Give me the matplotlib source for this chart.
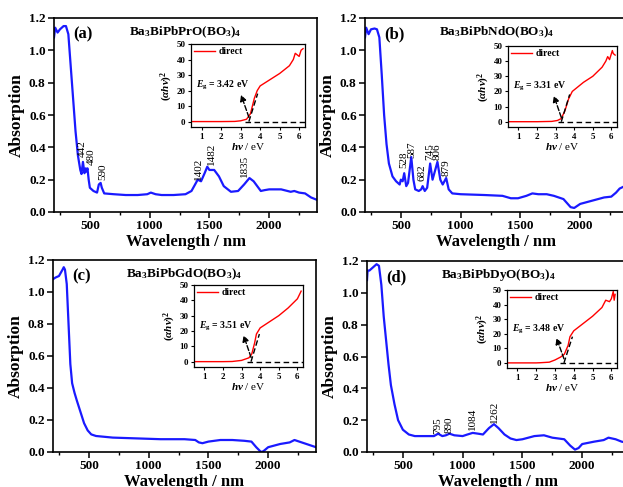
import matplotlib
matplotlib.use("Agg")
from matplotlib import pyplot as plt
from matplotlib.ticker import MultipleLocator, FormatStrFormatter

plt.rcParams['font.family'] = ['Liberation Serif', 'DejaVu Serif']
plt.rcParams['font.weight'] = 'bold'
plt.rcParams['mathtext.fontset'] = 'custom'
plt.rcParams['mathtext.rm'] = 'Liberation Serif:bold'
plt.rcParams['mathtext.it'] = 'Liberation Serif:italic:bold'
plt.rcParams['mathtext.bf'] = 'Liberation Serif:bold'

# widma absorpcji (nm, absorpcja)
wl_a = [200, 210, 230, 250, 280, 300, 320, 340, 360, 380, 400, 420, 430, 442, 455, 465, 472, 480,
        490, 500, 530, 560, 575, 590, 600, 620, 700, 800, 900, 980, 1010, 1050, 1100, 1200, 1300,
        1350, 1380, 1402, 1430, 1460, 1482, 1500, 1540, 1580, 1620, 1680, 1740, 1790, 1835, 1870,
        1910, 1930, 1960, 2000, 2100, 2180, 2210, 2250, 2300, 2350, 2400]
ab_a = [1.08, 1.14, 1.11, 1.13, 1.15, 1.15, 1.10, 0.90, 0.70, 0.50, 0.35, 0.26, 0.235, 0.31, 0.24,
        0.27, 0.25, 0.27, 0.20, 0.15, 0.13, 0.12, 0.17, 0.18, 0.15, 0.115, 0.11, 0.105, 0.105, 0.11,
        0.12, 0.11, 0.105, 0.105, 0.11, 0.13, 0.17, 0.20, 0.19, 0.24, 0.28, 0.26, 0.26, 0.22, 0.16,
        0.125, 0.13, 0.17, 0.21, 0.19, 0.15, 0.13, 0.135, 0.14, 0.14, 0.125, 0.13, 0.12, 0.115,
        0.09, 0.075]

wl_b = [200, 210, 230, 250, 280, 300, 320, 340, 360, 380, 400, 430, 460, 490, 500, 515, 528, 545,
        560, 587, 605, 620, 650, 670, 682, 700, 720, 745, 765, 780, 806, 830, 850, 879, 900, 930,
        1000, 1200, 1350, 1420, 1480, 1550, 1600, 1650, 1720, 1780, 1860, 1920, 1950, 2000, 2100,
        2200, 2260, 2300, 2330, 2400]
ab_b = [1.08, 1.14, 1.10, 1.13, 1.135, 1.13, 1.08, 0.85, 0.60, 0.42, 0.30, 0.22, 0.19, 0.17, 0.20,
        0.19, 0.24, 0.16, 0.18, 0.34, 0.20, 0.14, 0.13, 0.14, 0.16, 0.13, 0.15, 0.30, 0.20, 0.24,
        0.31, 0.20, 0.17, 0.21, 0.14, 0.115, 0.11, 0.105, 0.10, 0.085, 0.085, 0.10, 0.115, 0.11,
        0.11, 0.10, 0.08, 0.03, 0.025, 0.05, 0.07, 0.09, 0.095, 0.12, 0.145, 0.17]

wl_c = [200, 220, 250, 280, 290, 300, 315, 330, 345, 360, 380, 400, 430, 460, 490, 520, 560, 700,
        900, 1100, 1300, 1390, 1420, 1450, 1500, 1600, 1700, 1800, 1860, 1900, 1940, 1960, 2000,
        2100, 2180, 2220, 2260, 2340, 2400]
ab_c = [1.08, 1.09, 1.10, 1.14, 1.155, 1.14, 1.05, 0.80, 0.55, 0.43, 0.37, 0.32, 0.25, 0.18, 0.135,
        0.11, 0.10, 0.09, 0.085, 0.08, 0.08, 0.075, 0.06, 0.055, 0.065, 0.075, 0.075, 0.07, 0.065,
        0.03, 0.0, 0.005, 0.03, 0.05, 0.06, 0.075, 0.065, 0.045, 0.03]

wl_d = [200, 205, 220, 250, 280, 300, 320, 340, 360, 380, 400, 430, 460, 500, 550, 600, 700, 760,
        795, 830, 860, 890, 930, 1000, 1040, 1084, 1130, 1170, 1220, 1262, 1300, 1350, 1400, 1450,
        1500, 1600, 1680, 1750, 1850, 1900, 1940, 1970, 2000, 2100, 2180, 2220, 2280, 2330, 2400]
ab_d = [1.08, 1.14, 1.14, 1.16, 1.18, 1.17, 1.05, 0.85, 0.70, 0.55, 0.42, 0.30, 0.20, 0.14, 0.11,
        0.10, 0.10, 0.10, 0.115, 0.10, 0.105, 0.115, 0.105, 0.10, 0.11, 0.12, 0.115, 0.11, 0.15,
        0.175, 0.15, 0.11, 0.085, 0.075, 0.08, 0.10, 0.105, 0.09, 0.08, 0.04, 0.015, 0.025, 0.05,
        0.065, 0.075, 0.09, 0.08, 0.065, 0.055]

# podpisy pików: (tekst, x w nm, dolna krawędź podpisu)
piki_a = [('442', 436, 0.34), ('480', 514, 0.29), ('590', 609, 0.195),
          ('1402', 1407, 0.195), ('1482', 1516, 0.29), ('1835', 1795, 0.215)]
piki_b = [('528', 527, 0.27), ('587', 588, 0.335), ('682', 680, 0.19),
          ('745', 741, 0.32), ('806', 805, 0.32), ('879', 875, 0.225)]
piki_c = []
piki_d = [('795', 792, 0.115), ('890', 888, 0.12), ('1084', 1083, 0.14), ('1262', 1269, 0.18)]

# wykresy Tauca (eV, (ahv)^2)
ev_a = [0.45, 1.0, 2.0, 2.7, 3.0, 3.3, 3.5, 3.7, 3.85, 4.0, 4.5, 5.0, 5.5, 5.7, 5.8, 5.9, 6.0, 6.1, 6.2]
tauc_a = [0, 0, 0, 0.1, 0.5, 1.5, 5, 15, 20, 23, 27, 31, 36, 40, 44, 43, 42, 46, 47]
ev_b = [0.45, 1.0, 2.0, 2.8, 3.1, 3.3, 3.5, 3.7, 3.9, 4.2, 4.5, 5.0, 5.5, 5.7, 5.8, 5.9, 6.05, 6.1, 6.2]
tauc_b = [0, 0, 0, 0.2, 0.8, 2, 7, 15, 20, 23, 26, 30, 36, 40, 43, 41, 47, 45, 44]
ev_c = [0.45, 1.0, 2.0, 2.5, 3.0, 3.4, 3.55, 3.7, 3.8, 4.0, 4.5, 5.0, 5.5, 6.0, 6.2]
tauc_c = [0, 0, 0, 0.1, 0.8, 2.5, 5, 12, 18, 22, 26, 30, 35, 41, 46]
ev_d = [0.45, 1.0, 2.0, 2.2, 2.7, 3.0, 3.3, 3.5, 3.7, 3.8, 4.0, 4.5, 5.0, 5.5, 5.7, 5.9, 6.0, 6.1, 6.15, 6.2]
tauc_d = [0, 0, 0, 0.1, 0.5, 2, 4, 6, 12, 18, 22, 27, 32, 38, 43, 42, 44, 49, 43, 47]

eg_values = [3.42, 3.31, 3.51, 3.48]
wzory = ['Ba$_3$BiPbPrO(BO$_3$)$_4$', 'Ba$_3$BiPbNdO(BO$_3$)$_4$',
         'Ba$_3$BiPbGdO(BO$_3$)$_4$', 'Ba$_3$BiPbDyO(BO$_3$)$_4$']
litery = ['(a)', '(b)', '(c)', '(d)']

W, H = 623, 487


def px_box(left, top, right, bottom):
    return [left / W, 1 - bottom / H, (right - left) / W, (bottom - top) / H]


fig = plt.figure(figsize=(6.23, 4.87), dpi=100)

main_boxes = [px_box(54, 18, 317, 212), px_box(365, 18, 628, 212),
              px_box(53, 260, 316, 452), px_box(367, 261, 630, 452)]
inset_boxes = [px_box(191, 44, 305, 127), px_box(508, 46, 617, 127),
               px_box(194, 285, 303, 367), px_box(507, 290, 617, 368)]

widma = [(wl_a, ab_a, piki_a), (wl_b, ab_b, piki_b), (wl_c, ab_c, piki_c), (wl_d, ab_d, piki_d)]
tauce = [(ev_a, tauc_a), (ev_b, tauc_b), (ev_c, tauc_c), (ev_d, tauc_d)]

for i in range(4):
    wl, ab, piki = widma[i]
    ax = fig.add_axes(main_boxes[i])
    ax.plot(wl, ab, color='#1a1aff', lw=1.6)
    ax.set_xlim(200, 2400)
    ax.set_ylim(0, 1.2)
    ax.xaxis.set_major_locator(MultipleLocator(500))
    ax.xaxis.set_minor_locator(MultipleLocator(250))
    ax.yaxis.set_major_locator(MultipleLocator(0.2))
    ax.yaxis.set_major_formatter(FormatStrFormatter('%.1f'))
    ax.tick_params(labelsize=9.5, width=1.1, length=4, pad=2)
    ax.tick_params(which='minor', length=2.5, width=1)
    for s in ax.spines.values():
        s.set_linewidth(1.2)
    ax.set_ylabel('Absorption', fontsize=12.5, fontweight='bold', labelpad=3)
    ax.set_xlabel('Wavelength / nm', fontsize=12, fontweight='bold', labelpad=1)
    ax.text(0.075, 0.915, litery[i], transform=ax.transAxes, fontsize=12, fontweight='bold',
            va='center')
    ax.text(0.5, 0.925, wzory[i], transform=ax.transAxes, fontsize=9.5, fontweight='bold',
            ha='center', va='center')
    for tekst, x, y in piki:
        ax.text(x, y, tekst, rotation=90, fontsize=8, fontweight='normal',
                ha='center', va='bottom')

    ev, tauc = tauce[i]
    eg = eg_values[i]
    ins = fig.add_axes(inset_boxes[i])
    ins.plot(ev, tauc, color='red', lw=1.0, label='direct')
    ins.plot([eg, eg + 0.45], [0, 18], color='black', lw=1.0, ls=(0, (4, 2)))
    ins.plot([eg - 0.2, 6.3], [0, 0], color='black', lw=1.0, ls=(0, (4, 2.5)))
    ins.annotate('', xy=(eg - 0.45, 19), xytext=(eg + 0.05, 1),
                 arrowprops=dict(arrowstyle='-|>', color='black', lw=1.0, ls='--',
                                 mutation_scale=9))
    ins.text(0.7, 23, '$E_{\\mathrm{g}}$ = %.2f eV' % eg, fontsize=7, fontweight='bold',
             va='center')
    ins.set_xlim(0.45, 6.3)
    ins.set_ylim(-3.5, 50)
    ins.xaxis.set_major_locator(MultipleLocator(1))
    ins.yaxis.set_major_locator(MultipleLocator(10))
    ins.tick_params(labelsize=6.5, length=2.5, width=0.8, pad=1.5)
    for s in ins.spines.values():
        s.set_linewidth(0.9)
    ins.set_xlabel('$hv$ / eV', fontsize=8, labelpad=0)
    ins.set_ylabel('$(\\alpha hv)^2$', fontsize=8, labelpad=1)
    leg = ins.legend(loc='upper left', frameon=False, fontsize=7, handlelength=2.2,
                     borderaxespad=0.1, borderpad=0.2, handletextpad=0.3)
    for t in leg.get_texts():
        t.set_fontweight('bold')

fig.savefig('out.png', dpi=100)
